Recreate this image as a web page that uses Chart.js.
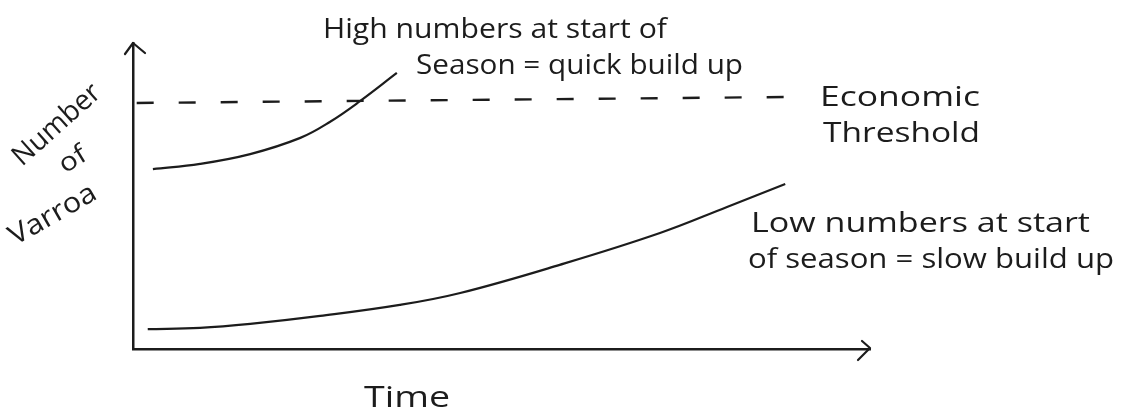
<!DOCTYPE html>
<html>
<head>
<meta charset="utf-8">
<script src="https://cdn.jsdelivr.net/npm/chart.js@4"></script>
<style>
  html, body { margin: 0; padding: 0; background: #ffffff; }
  #wrap { width: 1123px; height: 414px; position: relative; }
</style>
</head>
<body>
<div id="wrap"><canvas id="c" width="1123" height="414"></canvas></div>
<script>
// ---- data (arbitrary units: time 0-100, number of Varroa 0-100) ----
const timeHigh   = [2.7, 9.1, 15.9, 22.7, 26.7, 30.8, 35.8];
const varroaHigh = [58.8, 60.5, 63.7, 69.0, 74.2, 81.0, 90.2];

const timeLow    = [2.0, 9.1, 15.9, 25.4, 36.2, 44.4, 57.9, 71.5, 80.6, 88.5];
const varroaLow  = [6.5, 6.9, 8.2, 10.8, 14.4, 18.3, 27.5, 37.9, 46.4, 53.9];

const thresholdTime  = [0.5, 90.9];
const thresholdLevel = [80.4, 82.4];

const xTitle = 'Time';
const yTitleLines = ['Number', 'of', 'Varroa'];
const thresholdLabel = ['Economic', 'Threshold'];
const highNote = ['High numbers at start of', 'Season = quick build up'];
const lowNote  = ['Low numbers at start', 'of season = slow build up'];

const pts = (xs, ys) => xs.map((x, i) => ({ x: x, y: ys[i] }));

const INK = '#1c1c1c';
const FONT = '"Open Sans", Lato, "DejaVu Sans", sans-serif';

function fitText(ctx, text, x, y, width, size, angle) {
  ctx.save();
  ctx.font = '400 ' + size + 'px ' + FONT;
  ctx.fillStyle = INK;
  ctx.textBaseline = 'alphabetic';
  ctx.textAlign = 'left';
  const w = ctx.measureText(text).width;
  ctx.translate(x, y);
  if (angle) ctx.rotate(angle);
  ctx.scale(width / w, 1);
  ctx.fillText(text, 0, 0);
  ctx.restore();
}
function fitTextCentered(ctx, text, cx, cy, width, size, angle) {
  ctx.save();
  ctx.font = '400 ' + size + 'px ' + FONT;
  ctx.fillStyle = INK;
  ctx.textBaseline = 'middle';
  ctx.textAlign = 'center';
  const w = ctx.measureText(text).width;
  ctx.translate(cx, cy);
  ctx.rotate(angle);
  ctx.scale(width / w, 1);
  ctx.fillText(text, 0, 0);
  ctx.restore();
}

const sketchPlugin = {
  id: 'sketch',
  afterDraw(chart) {
    const ctx = chart.ctx;
    const a = chart.chartArea;
    // arrow heads
    ctx.save();
    ctx.strokeStyle = INK;
    ctx.lineWidth = 2.2;
    ctx.lineCap = 'round';
    ctx.lineJoin = 'round';
    ctx.beginPath();
    ctx.moveTo(a.left - 8, a.top + 11);
    ctx.lineTo(a.left, a.top);
    ctx.lineTo(a.left + 12, a.top + 10);
    ctx.stroke();
    ctx.beginPath();
    ctx.moveTo(a.right - 8, a.bottom - 8);
    ctx.lineTo(a.right, a.bottom - 1);
    ctx.lineTo(a.right - 12, a.bottom + 11);
    ctx.stroke();
    ctx.restore();

    // annotations
    fitText(ctx, highNote[0], 323, 38, 344, 27);
    fitText(ctx, highNote[1], 416, 74, 327, 27);
    fitText(ctx, thresholdLabel[0], 820, 106, 160, 28);
    fitText(ctx, thresholdLabel[1], 823, 142, 157, 28);
    fitText(ctx, lowNote[0], 751, 232, 339, 27);
    fitText(ctx, lowNote[1], 748, 268, 366, 27);
    fitText(ctx, xTitle, 364, 407, 86, 30);

    fitTextCentered(ctx, yTitleLines[0], 57, 125, 108, 28, -0.73);
    fitTextCentered(ctx, yTitleLines[1], 73, 160, 28, 26, -0.55);
    fitTextCentered(ctx, yTitleLines[2], 53, 215, 96, 28, -0.52);
  }
};

new Chart(document.getElementById('c'), {
  type: 'line',
  data: {
    datasets: [
      {
        label: 'High start',
        data: pts(timeHigh, varroaHigh),
        borderColor: INK,
        borderWidth: 2.2,
        pointRadius: 0,
        tension: 0.4,
        fill: false,
        clip: false
      },
      {
        label: 'Low start',
        data: pts(timeLow, varroaLow),
        borderColor: INK,
        borderWidth: 2.2,
        pointRadius: 0,
        tension: 0.4,
        fill: false,
        clip: false
      },
      {
        label: 'Economic Threshold',
        data: pts(thresholdTime, thresholdLevel),
        borderColor: INK,
        borderWidth: 2.4,
        borderDash: [17, 25],
        pointRadius: 0,
        fill: false,
        clip: false
      }
    ]
  },
  options: {
    responsive: false,
    animation: false,
    layout: { padding: { left: 133, right: 253, top: 43, bottom: 65 } },
    plugins: { legend: { display: false }, tooltip: { enabled: false } },
    scales: {
      x: {
        type: 'linear', min: 0, max: 100,
        grid: { display: false, drawTicks: false },
        ticks: { display: false },
        border: { display: true, color: INK, width: 2.5 }
      },
      y: {
        type: 'linear', min: 0, max: 100,
        grid: { display: false, drawTicks: false },
        ticks: { display: false },
        border: { display: true, color: INK, width: 2.5 }
      }
    }
  },
  plugins: [sketchPlugin]
});
</script>
</body>
</html>
